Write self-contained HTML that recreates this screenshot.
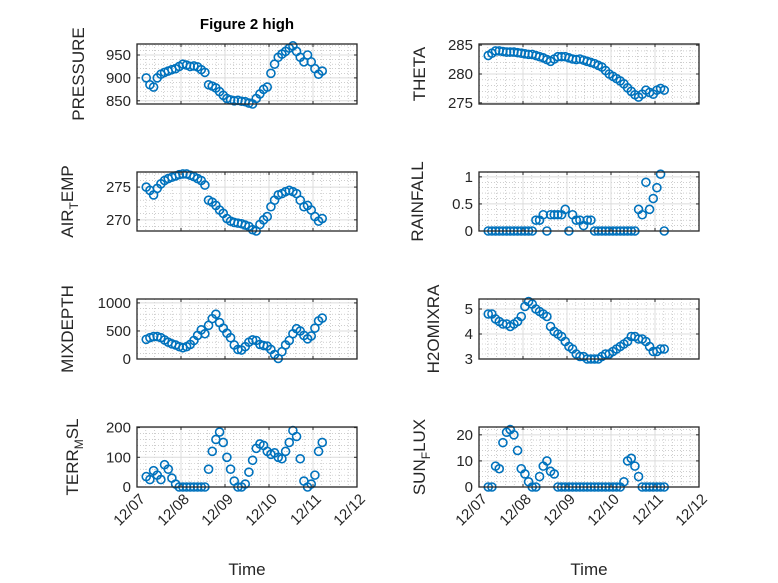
<!DOCTYPE html>
<html><head><meta charset="utf-8"><style>
html,body{margin:0;padding:0;background:#fff;}
svg{display:block;font-family:"Liberation Sans",sans-serif;}
</style></head><body>
<svg id="fig" width="778" height="583" viewBox="0 0 778 583" xmlns="http://www.w3.org/2000/svg">
<rect width="778" height="583" fill="#fff"/>
<text x="247" y="29" text-anchor="middle" font-size="15" font-weight="bold" fill="#000">Figure 2 high</text>
</svg>
<script>
const startDay = 0.21;
const stepDay = 1/12;
const dayLabels = ["12/07","12/08","12/09","12/10","12/11","12/12"];
const pressure = [900,885,880,900,908,912,915,918,920,925,930,928,925,926,924,918,912,885,882,878,870,862,855,852,850,851,849,848,845,843,855,865,875,880,910,930,945,952,958,965,970,958,945,935,950,935,920,908,915];
const airTemp = [275,274.5,273.8,274.8,275.5,276,276.3,276.5,276.7,276.9,277,277,276.8,276.6,276.3,276,275.3,273,272.7,272.2,271.5,271,270.2,269.8,269.6,269.5,269.4,269.2,269,268.5,268.3,269.3,270,270.5,272,273,273.8,274,274.3,274.5,274.3,274,273,272,272.2,271.5,270.5,269.8,270.2];
const mixDepth = [350,380,400,400,380,340,300,270,250,220,200,220,260,330,420,520,450,600,720,800,650,550,460,380,250,170,160,220,300,340,330,260,240,230,170,80,10,130,250,330,450,540,500,420,360,410,550,680,730];
const terrMsl = [35,25,55,40,25,75,60,30,10,0,0,0,0,0,0,0,0,60,120,160,185,150,100,60,20,0,0,10,50,90,130,145,140,120,110,115,100,95,120,150,190,170,95,20,0,10,40,120,150];
const theta = [283.2,283.6,284,284,283.9,283.8,283.8,283.8,283.7,283.6,283.5,283.4,283.4,283.2,283,282.8,282.5,282.2,282.6,283,283,283,282.8,282.6,282.5,282.6,282.4,282.2,282,281.8,281.5,281.2,280.6,280,279.6,279.2,278.8,278.3,277.6,277,276.4,276,276.5,277.2,276.8,276.5,277.2,277.5,277.2];
const rainfall = [0,0,0,0,0,0,0,0,0,0,0,0,0,0.2,0.2,0.3,0,0.3,0.3,0.3,0.3,0.4,0,0.3,0.2,0.2,0.1,0.2,0.2,0,0,0,0,0,0,0,0,0,0,0,0,0.4,0.3,0.9,0.4,0.6,0.8,1.05,0];
const h2oMix = [4.8,4.8,4.6,4.5,4.4,4.4,4.3,4.4,4.5,4.7,5.1,5.3,5.2,5.0,4.9,4.8,4.7,4.3,4.1,4.0,3.9,3.7,3.5,3.4,3.2,3.1,3.1,3.0,3.0,3.0,3.0,3.1,3.2,3.2,3.3,3.4,3.5,3.6,3.7,3.9,3.9,3.8,3.8,3.7,3.5,3.3,3.3,3.4,3.4];
const sunFlux = [0,0,8,7,17,21,22,20,14,7,5,2,0,0,4,8,10,6,5,0,0,0,0,0,0,0,0,0,0,0,0,0,0,0,0,0,0,2,10,11,8,4,0,0,0,0,0,0,0];
const pressureTicks = [850,900,950];
const airTempTicks = [270,275];
const mixTicks = [0,500,1000];
const terrTicks = [0,100,200];
const thetaTicks = [275,280,285];
const rainTicks = [0,0.5,1];
const h2oTicks = [3,4,5];
const sunTicks = [0,10,20];

const NS="http://www.w3.org/2000/svg";
const svg=document.getElementById('fig');
function mk(tag,attrs,parent){const e=document.createElementNS(NS,tag);for(const k in attrs)e.setAttribute(k,attrs[k]);(parent||svg).appendChild(e);return e;}

function panel(cfg){
  const {x0,x1,y0,y1,ymin,ymax,ticks,minorStep,data,label,sub,name,showX}=cfg;
  const g=mk('g',{});
  
  
  const sx=d=>x0+(d/5)*(x1-x0);
  const sy=v=>y1-(v-ymin)/(ymax-ymin)*(y1-y0);
  for(let d=0;d<=5.001;d+=0.2){const X=sx(d);if(Math.abs(d-Math.round(d))<1e-6)continue;
    mk('line',{x1:X,x2:X,y1:y0,y2:y1,stroke:'#b0b0b0','stroke-width':0.6,'stroke-dasharray':'1 2'},g);}
  const ms=minorStep;
  for(let v=Math.ceil(ymin/ms)*ms;v<=ymax;v+=ms){if(ticks.some(t=>Math.abs(t-v)<1e-9))continue;const Y=sy(v);
    mk('line',{x1:x0,x2:x1,y1:Y,y2:Y,stroke:'#b0b0b0','stroke-width':0.6,'stroke-dasharray':'1 2'},g);}
  for(let d=1;d<5;d++){const X=sx(d);mk('line',{x1:X,x2:X,y1:y0,y2:y1,stroke:'#dcdcdc','stroke-width':1},g);}
  ticks.forEach(t=>{const Y=sy(t);
    mk('line',{x1:x0,x2:x1,y1:Y,y2:Y,stroke:'#dcdcdc','stroke-width':1},g);
    mk('line',{x1:x0,x2:x0+3,y1:Y,y2:Y,stroke:'#262626','stroke-width':1},g);
    mk('line',{x1:x1,x2:x1-3,y1:Y,y2:Y,stroke:'#262626','stroke-width':1},g);
    const tl=mk('text',{x:x0-6,y:Y+5,'text-anchor':'end','font-size':15,fill:'#262626'},g);
    
    
    tl.textContent=String(t);
  });
  for(let d=0;d<=5;d++){const X=sx(d);
    mk('line',{x1:X,x2:X,y1:y1,y2:y1-3,stroke:'#262626','stroke-width':1},g);
    mk('line',{x1:X,x2:X,y1:y0,y2:y0+3,stroke:'#262626','stroke-width':1},g);
    if(showX){const tx=mk('text',{x:0,y:0,'text-anchor':'end','font-size':15,fill:'#262626',transform:`translate(${X+9},${y1+13}) rotate(-45)`},g);
      
      
      tx.textContent=dayLabels[d];}
  }
  data.forEach((v,i)=>{const d=startDay+i*stepDay;
    const c=mk('circle',{cx:sx(d),cy:sy(v),r:4,fill:'none',stroke:'#0072BD','stroke-width':1.6},g);
    
    
  });
  mk('rect',{x:x0,y:y0,width:x1-x0,height:y1-y0,fill:'none',stroke:'#262626','stroke-width':1.3},g);
  const lx=x0-(cfg.labelOff||58), ly=(y0+y1)/2;
  const yl=mk('text',{x:0,y:0,'text-anchor':'middle','font-size':17,fill:'#262626',transform:`translate(${lx},${ly}) rotate(-90)`},g);
  
  
  if(sub){const a=mk('tspan',{},yl);a.textContent=label[0];
    const b=mk('tspan',{dy:5,'font-size':12},yl);b.textContent=sub;
    const c=mk('tspan',{dy:-5},yl);c.textContent=label[1];}
  else yl.textContent=label;
  if(showX){const t=mk('text',{x:(x0+x1)/2,y:575,'text-anchor':'middle','font-size':17,fill:'#262626'},g);
    
    
    t.textContent='Time';}
}
const L=[137,357],R=[479,699];
const rows=[[44,104],[172,231],[299,359],[427,487]];
panel({x0:L[0],x1:L[1],y0:rows[0][0],y1:rows[0][1],ymin:843,ymax:974,ticks:pressureTicks,minorStep:10,data:pressure,label:'PRESSURE',name:'pressure',labelOff:53});
panel({x0:L[0],x1:L[1],y0:rows[1][0],y1:rows[1][1],ymin:268.3,ymax:277.3,ticks:airTempTicks,minorStep:1,data:airTemp,label:['AIR','EMP'],sub:'T',name:'air-temp',labelOff:64});
panel({x0:L[0],x1:L[1],y0:rows[2][0],y1:rows[2][1],ymin:0,ymax:1070,ticks:mixTicks,minorStep:100,data:mixDepth,label:'MIXDEPTH',name:'mixdepth',labelOff:64});
panel({x0:L[0],x1:L[1],y0:rows[3][0],y1:rows[3][1],ymin:0,ymax:202,ticks:terrTicks,minorStep:20,data:terrMsl,label:['TERR','SL'],sub:'M',name:'terr-msl',labelOff:59,showX:true});
panel({x0:R[0],x1:R[1],y0:rows[0][0],y1:rows[0][1],ymin:274.8,ymax:285.2,ticks:thetaTicks,minorStep:1,data:theta,label:'THETA',name:'theta',labelOff:54});
panel({x0:R[0],x1:R[1],y0:rows[1][0],y1:rows[1][1],ymin:0,ymax:1.09,ticks:rainTicks,minorStep:0.1,data:rainfall,label:'RAINFALL',name:'rainfall',labelOff:56});
panel({x0:R[0],x1:R[1],y0:rows[2][0],y1:rows[2][1],ymin:3,ymax:5.4,ticks:h2oTicks,minorStep:0.2,data:h2oMix,label:'H2OMIXRA',name:'h2omixra',labelOff:40});
panel({x0:R[0],x1:R[1],y0:rows[3][0],y1:rows[3][1],ymin:0,ymax:23,ticks:sunTicks,minorStep:2,data:sunFlux,label:['SUN','LUX'],sub:'F',name:'sun-flux',labelOff:54,showX:true});
</script>
</body></html>
